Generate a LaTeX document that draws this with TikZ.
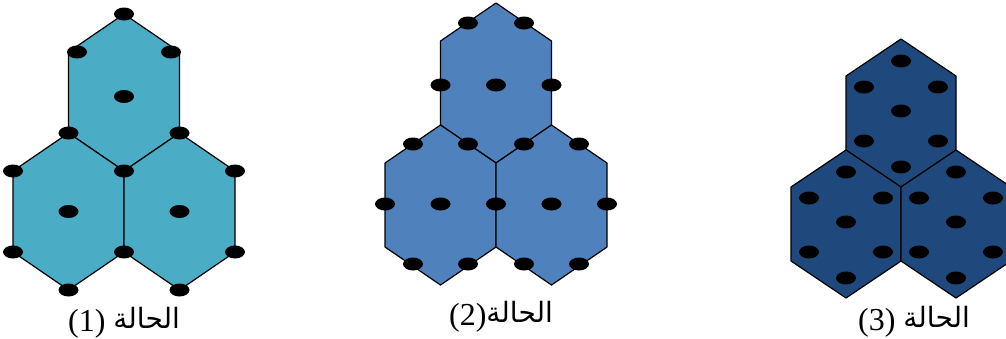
\documentclass[tikz,border=0pt]{standalone}
\usepackage{fontspec}
\setmainfont{Liberation Serif}
\newfontfamily\arabicfont[Script=Arabic]{DejaVu Sans}
\TeXXeTstate=1
\definecolor{cellteal}{HTML}{4BACC6}
\definecolor{cellblue}{HTML}{4F81BD}
\definecolor{celldark}{HTML}{1F497D}
\tikzset{
  cell/.style={draw=black,line width=1.2pt,line join=round},
  caselabel/.style={anchor=base,inner sep=0pt,font=\fontsize{32}{34}\selectfont}
}
% hexagon: centre x, centre y, half width, half side, apex, colour
\newcommand{\hexcell}[6]{%
  \draw[cell,fill=#6] (#1-#3,#2-#4) -- (#1,#2-#5) -- (#1+#3,#2-#4)
    -- (#1+#3,#2+#4) -- (#1,#2+#5) -- (#1-#3,#2+#4) -- cycle;}
\newcommand{\arword}{\raisebox{3pt}{\arabicfont\fontsize{28}{30}\selectfont\beginR الحالة\endR}}

\begin{document}
\begin{tikzpicture}[x=1pt,y=-1pt]
  \useasboundingbox (0,0) rectangle (1006,338);
  \clip (0,0) rectangle (1006,338);

  % case 1: dots on the corners
  \begin{scope}[shift={(124,92.5)}]
    \hexcell{0}{0}{55.5}{40.5}{78.5}{cellteal}
    \hexcell{-55.5}{119}{55.5}{40.5}{78.5}{cellteal}
    \hexcell{55.5}{119}{55.5}{40.5}{78.5}{cellteal}
    \foreach \p in {(0,-78.5),(-47,-40.5),(47,-40.5),(0,4),(-55.5,40.5),(55.5,40.5),
                    (0,78.5),(-111,78.5),(111,78.5),(-55.5,119),(55.5,119),
                    (-111,159.5),(0,159.5),(111,159.5),(-55.5,197.5),(55.5,197.5)}
      \fill \p ellipse [x radius=10,y radius=6.5];
  \end{scope}

  % case 2: dots on the edges
  \begin{scope}[shift={(496,83)}]
    \hexcell{0}{0}{55.5}{42}{80}{cellblue}
    \hexcell{-55.5}{122}{55.5}{42}{80}{cellblue}
    \hexcell{55.5}{122}{55.5}{42}{80}{cellblue}
    \foreach \p in {(-28,-60),(28,-60),(-55.5,2),(0,2),(55.5,2),
                    (-83,61),(-28,61),(28,61),(83,61),
                    (-111,121),(-55.5,121),(0,121),(55.5,121),(111,121),
                    (-83,181),(-28,181),(28,181),(83,181)}
      \fill \p ellipse [x radius=10,y radius=6.5];
  \end{scope}

  % case 3: dots inside the cells
  \begin{scope}[shift={(901,113)}]
    \hexcell{0}{0}{55}{37}{74}{celldark}
    \hexcell{-55}{111}{55}{37}{74}{celldark}
    \hexcell{55}{111}{55}{37}{74}{celldark}
    \foreach \cx/\cy in {0/0,-55/111,55/111}
      \foreach \dx/\dy in {0/-52,-37/-26,37/-26,0/-2,-37/28,37/28,0/54}
        \fill (\cx+\dx,\cy+\dy) ellipse [x radius=10,y radius=6.5];
  \end{scope}

  \node[caselabel] (case1) at (124,331) {(1) \arword};
  \node[caselabel] (case2) at (501,325) {(2)\arword};
  \node[caselabel] (case3) at (914,330) {(3) \arword};
\end{tikzpicture}
\end{document}
